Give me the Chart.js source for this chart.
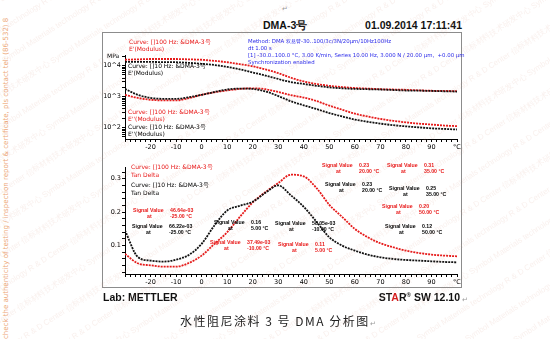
<!DOCTYPE html>
<html>
<head>
<meta charset="utf-8">
<script src="https://cdn.jsdelivr.net/npm/chart.js@4.4.0/dist/chart.umd.min.js"></script>
<style>
  body { margin: 0; width: 550px; height: 339px; background: #fff; position: relative; overflow: hidden;
         font-family: "Liberation Sans", Arial, sans-serif; }
  .t { position: absolute; white-space: pre; line-height: 1; transform: translateY(-50%); }
  .small { font-family: "DejaVu Sans", Tahoma, sans-serif; font-size: 6px; }
  .sv { font-family: "Liberation Sans", Arial, sans-serif; font-size: 5.2px; font-weight: bold; }
  .red { color: #e81818; }
  .blue { color: #2b2bea; }
  .head { font-size: 10.5px; font-weight: bold; color: #111; }
  .ret { font-size: 7px; color: #999; }
  #frame { position: absolute; left: 102px; top: 32px; width: 358px; height: 254px; border: 1.5px solid #8c8c8c; }
  .plot { position: absolute; left: 100px; width: 370px; }
  #wm { position: absolute; left: -150px; top: -200px; width: 900px; height: 800px; transform: rotate(-33deg);
        color: rgba(214, 150, 130, 0.14); font-size: 8px; line-height: 27px; white-space: nowrap; pointer-events: none; }
  #side { position: absolute; left: 2px; top: 339px; transform: rotate(-90deg); transform-origin: left top;
          color: #eda878; font-size: 7px; white-space: nowrap; font-family: "DejaVu Sans", sans-serif; }
</style>
</head>
<body>
<div class="t ret" style="left:282px;top:8px;">↵</div>
<div class="t head" style="left:263px;top:25px;">DMA-3号</div>
<div class="t head" style="right:88px;top:25px;">01.09.2014 17:11:41</div>

<div id="frame"></div>
<div class="plot" style="top:30px;height:123px;"><canvas id="upper" width="370" height="123"></canvas></div>
<div class="plot" style="top:140px;height:148px;"><canvas id="lower" width="370" height="148"></canvas></div>

<!-- upper plot texts -->
<div class="t small" style="left:107px;top:56px;">MPa</div>
<div class="t small red" style="left:129px;top:42px;">Curve: []100 Hz: &amp;DMA-3号</div>
<div class="t small red" style="left:129px;top:49px;">E'(Modulus)</div>
<div class="t small" style="left:128px;top:66px;">Curve: []10 Hz: &amp;DMA-3号</div>
<div class="t small" style="left:128px;top:73px;">E'(Modulus)</div>
<div class="t small red" style="left:128px;top:112px;">Curve: []100 Hz: &amp;DMA-3号</div>
<div class="t small red" style="left:128px;top:119px;">E''(Modulus)</div>
<div class="t small" style="left:128px;top:127px;">Curve: []10 Hz: &amp;DMA-3号</div>
<div class="t small" style="left:128px;top:134px;">E''(Modulus)</div>
<div class="t small blue" style="left:248px;top:42px;font-size:5.4px;">Method: DMA 双悬臂-30..100/3c/3N/20μm/10Hz100Hz</div>
<div class="t small blue" style="left:248px;top:49px;font-size:5.4px;">dt 1.00 s</div>
<div class="t small blue" style="left:248px;top:56px;font-size:5.4px;">[1] -30.0..100.0 °C, 3.00 K/min, Series 10.00 Hz, 3.000 N / 20.00 μm,  +0.00 μm</div>
<div class="t small blue" style="left:248px;top:63px;font-size:5.4px;">Synchronization enabled</div>

<!-- lower plot texts -->
<div class="t small red" style="left:131px;top:167px;">Curve: []100 Hz: &amp;DMA-3号</div>
<div class="t small red" style="left:131px;top:175px;">Tan Delta</div>
<div class="t small" style="left:131px;top:185px;">Curve: []10 Hz: &amp;DMA-3号</div>
<div class="t small" style="left:131px;top:193px;">Tan Delta</div>
<div id="signals"></div>

<div class="t head" style="left:103px;top:297px;">Lab: METTLER</div>
<div class="t head" style="right:90px;top:297px;">ST<span style="color:#d42020">A</span>R<sup style="font-size:6px">®</sup> SW 12.10</div>
<div class="t ret" style="left:462px;top:299px;">↵</div>
<div class="t" style="left:180px;top:321px;font-family:'Noto Sans CJK SC';font-size:12px;color:#222;letter-spacing:1.5px;">水性阻尼涂料 3 号 DMA 分析图</div>
<div class="t ret" style="left:370px;top:323px;">↵</div>

<div id="side">check the authenticity of testing / inspection report &amp; certificate, pls contact tel: (86-532) 8</div>
<div id="wm"></div>

<script>
// temperature (°C)
const temps = [-30, -25, -20, -15, -10, -5, 0, 5, 10, 15, 20, 25, 30, 35, 40, 45, 50, 55, 60, 65, 70, 75, 80, 85, 90, 95, 100];

// E' storage modulus (MPa)
const ePrime100 = [15500, 16000, 16400, 16400, 16400, 16000, 15500, 14300, 12900, 11200, 9550, 7590, 5750, 4070, 3090, 2570, 2240, 2040, 1905, 1820, 1740, 1700, 1660, 1600, 1550, 1530, 1510];
const ePrime10 = [13200, 13200, 13200, 13000, 12900, 12300, 11500, 10500, 9120, 7590, 6030, 4790, 3720, 2950, 2570, 2240, 2000, 1860, 1780, 1740, 1700, 1640, 1580, 1560, 1530, 1490, 1460];

// E'' loss modulus (MPa)
const eLoss100 = [1150, 912, 794, 759, 759, 891, 1150, 1380, 1585, 1778, 1862, 1738, 1413, 1122, 933, 724, 513, 380, 282, 229, 191, 166, 148, 135, 126, 117, 112];
const eLoss10 = [1778, 1148, 912, 851, 851, 955, 1148, 1413, 1698, 1820, 1778, 1479, 1047, 708, 525, 398, 295, 229, 182, 155, 135, 120, 110, 102, 95, 91, 87];

// tan delta
const tanDelta100 = [0.075, 0.047, 0.041, 0.037, 0.037, 0.048, 0.070, 0.105, 0.140, 0.186, 0.229, 0.260, 0.287, 0.312, 0.307, 0.272, 0.222, 0.186, 0.150, 0.125, 0.107, 0.095, 0.085, 0.078, 0.073, 0.070, 0.068];
const tanDelta10 = [0.145, 0.066, 0.055, 0.052, 0.058, 0.072, 0.105, 0.160, 0.205, 0.219, 0.231, 0.258, 0.280, 0.250, 0.216, 0.171, 0.125, 0.100, 0.085, 0.073, 0.065, 0.060, 0.057, 0.055, 0.053, 0.051, 0.050];

// signal value read-outs: [colour, left, y, value, temperature]
const signalLabels = [
  ['red', 133, 211, '46.64e-03', '-25.00 °C'],
  ['black', 132, 227, '66.22e-03', '-25.00 °C'],
  ['black', 214, 223, '0.16', '5.00 °C'],
  ['red', 210, 243, '37.49e-03', '-10.00 °C'],
  ['black', 275, 224, '58.05e-03', '-10.00 °C'],
  ['red', 278, 245, '0.11', '5.00 °C'],
  ['red', 322, 166, '0.23', '20.00 °C'],
  ['red', 387, 166, '0.31', '35.00 °C'],
  ['black', 325, 185, '0.23', '20.00 °C'],
  ['black', 389, 189, '0.25', '35.00 °C'],
  ['red', 382, 207, '0.20', '50.00 °C'],
  ['black', 385, 227, '0.12', '50.00 °C']
];

const RED = '#e61a1a';
const BLACK = '#111';

const box = document.getElementById('signals');
signalLabels.forEach(([c, x, y, val, at]) => {
  const cls = 't sv' + (c === 'red' ? ' red' : '');
  box.innerHTML +=
    `<div class="${cls}" style="left:${x}px;top:${y}px;">Signal Value</div>` +
    `<div class="${cls}" style="left:${x + 37}px;top:${y}px;">${val}</div>` +
    `<div class="${cls}" style="left:${x + 14}px;top:${y + 6}px;">at</div>` +
    `<div class="${cls}" style="left:${x + 37}px;top:${y + 6}px;">${at}</div>`;
});

// faint diagonal watermark
const wmLine = 'Symbol Materials technology R &amp; D Center 信标材料技术研发中心   ';
let wm = '';
for (let i = 0; i < 30; i++) wm += '<div style="margin-left:' + (i % 3) * 40 + 'px">' + wmLine.repeat(6) + '</div>';
document.getElementById('wm').innerHTML = wm;

Chart.defaults.font.family = '"DejaVu Sans", Tahoma, sans-serif';
Chart.defaults.font.size = 6.5;
Chart.defaults.color = '#000';

const points = arr => temps.map((t, i) => ({ x: t, y: arr[i] }));

function line(arr, color) {
  return {
    data: points(arr),
    borderColor: color,
    borderWidth: 1.8,
    borderDash: [2, 1],
    pointRadius: 0,
    fill: false,
    cubicInterpolationMode: 'monotone'
  };
}

function xAxis() {
  return {
    type: 'linear',
    min: -30,
    max: 100,
    afterBuildTicks: s => {
      s.ticks = [];
      for (let v = -30; v <= 100; v += 2) s.ticks.push({ value: v });
    },
    ticks: {
      autoSkip: false,
      maxRotation: 0,
      padding: 1,
      callback: v => v === 100 ? '°C' : (v % 10 === 0 && v > -30 ? String(v) : '')
    },
    grid: { drawOnChartArea: false, tickLength: 3, color: '#000' },
    border: { color: '#000' },
    afterFit: s => { s.height = 14; }
  };
}

const common = {
  responsive: false,
  animation: false,
  devicePixelRatio: 1,
  plugins: { legend: { display: false }, tooltip: { enabled: false } }
};

new Chart(document.getElementById('upper'), {
  type: 'line',
  data: {
    datasets: [
      line(ePrime10, BLACK),
      line(ePrime100, RED),
      line(eLoss10, BLACK),
      line(eLoss100, RED)
    ]
  },
  options: {
    ...common,
    layout: { padding: { top: 25, right: 13, left: 0, bottom: 0 } },
    scales: {
      x: xAxis(),
      y: {
        type: 'logarithmic',
        min: 43,
        max: 22100,
        afterBuildTicks: s => {
          s.ticks = [];
          for (let p = 1; p <= 4; p++)
            for (let m = 1; m <= 9; m++) {
              const v = m * Math.pow(10, p);
              if (v >= 43 && v <= 22100) s.ticks.push({ value: v });
            }
        },
        ticks: {
          autoSkip: false,
          padding: 1,
          callback: v => {
            const p = Math.log10(v);
            return Math.abs(p - Math.round(p)) < 1e-9 ? '10^' + Math.round(p) : '';
          }
        },
        grid: { drawOnChartArea: false, tickLength: 3, color: '#000' },
        border: { color: '#000' },
        afterFit: s => { s.width = 25; }
      }
    }
  }
});

new Chart(document.getElementById('lower'), {
  type: 'line',
  data: {
    datasets: [
      line(tanDelta10, BLACK),
      line(tanDelta100, RED)
    ]
  },
  options: {
    ...common,
    layout: { padding: { top: 27, right: 13, left: 0, bottom: 0 } },
    scales: {
      x: xAxis(),
      y: {
        type: 'linear',
        min: 0.015,
        max: 0.335,
        afterBuildTicks: s => {
          s.ticks = [];
          for (let k = 1; k <= 16; k++) s.ticks.push({ value: k * 0.02 });
        },
        ticks: {
          autoSkip: false,
          padding: 1,
          callback: v => Math.abs(v * 10 - Math.round(v * 10)) < 1e-6 ? (Math.round(v * 10) / 10).toFixed(1) : ''
        },
        grid: { drawOnChartArea: false, tickLength: 3, color: '#000' },
        border: { color: '#000' },
        afterFit: s => { s.width = 25; }
      }
    }
  }
});
</script>
</body>
</html>
